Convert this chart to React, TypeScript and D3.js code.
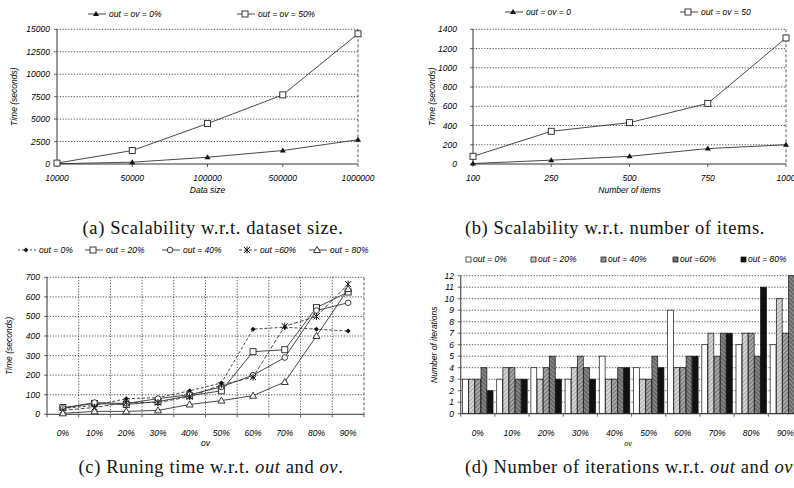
import React from "react";
import * as d3 from "d3";

// ---- Data ----
const sizeCats = ["10000", "50000", "100000", "500000", "1000000"];
const sizeOv0 = [30, 200, 750, 1500, 2700];
const sizeOv50 = [100, 1500, 4500, 7700, 14500];
const sizeTicks = [0, 2500, 5000, 7500, 10000, 12500, 15000];

const itemCats = ["100", "250", "500", "750", "1000"];
const itemOv0 = [5, 40, 80, 160, 200];
const itemOv50 = [80, 340, 430, 630, 1310];
const itemTicks = [0, 200, 400, 600, 800, 1000, 1200, 1400];

const ovCats = ["0%", "10%", "20%", "30%", "40%", "50%", "60%", "70%", "80%", "90%"];
const timeOut0 = [30, 45, 80, 85, 120, 160, 435, 445, 435, 425];
const timeOut20 = [35, 55, 50, 65, 95, 120, 320, 330, 545, 625];
const timeOut40 = [30, 60, 55, 80, 100, 140, 200, 290, 530, 570];
const timeOut60 = [20, 35, 60, 60, 90, 150, 190, 450, 500, 665];
const timeOut80 = [5, 15, 15, 20, 50, 70, 95, 165, 400, 640];
const timeTicks = [0, 100, 200, 300, 400, 500, 600, 700];

const iterOut0 = [3, 3, 4, 3, 5, 4, 9, 6, 6, 6];
const iterOut20 = [3, 4, 3, 4, 3, 3, 4, 7, 7, 10];
const iterOut40 = [3, 4, 4, 5, 3, 3, 4, 5, 7, 7];
const iterOut60 = [4, 3, 5, 4, 4, 5, 5, 7, 5, 12];
const iterOut80 = [2, 3, 3, 3, 4, 4, 5, 7, 11, 9];
const iterTicks = d3.range(0, 13);

const outLabels = ["out = 0%", "out = 20%", "out = 40%", "out =60%", "out = 80%"];

const FONT = "'Liberation Sans', Arial, sans-serif";
const SERIF = "'Liberation Serif', 'DejaVu Serif', serif";
const LINE = "#333";
const TXT = "#000";
const FS = 8.5;
const GRID = { stroke: "#222", strokeWidth: 0.8, strokeDasharray: "1.2,1.6" };

type Mk = "tri" | "sq" | "circ" | "diam" | "star" | "otri";

function Marker({ x, y, t }: { x: number; y: number; t: Mk }) {
  if (t === "tri")
    return <path d={`M${x},${y - 3}L${x + 3},${y + 2}L${x - 3},${y + 2}Z`} fill="#111" />;
  if (t === "otri")
    return <path d={`M${x},${y - 3.5}L${x + 3.5},${y + 2.5}L${x - 3.5},${y + 2.5}Z`} fill="#fff" stroke="#222" strokeWidth={0.9} />;
  if (t === "sq")
    return <rect x={x - 3} y={y - 3} width={6} height={6} fill="#fff" stroke="#222" strokeWidth={0.9} />;
  if (t === "circ") return <circle cx={x} cy={y} r={2.8} fill="#fff" stroke="#222" strokeWidth={0.9} />;
  if (t === "diam")
    return <path d={`M${x},${y - 2.5}L${x + 2.5},${y}L${x},${y + 2.5}L${x - 2.5},${y}Z`} fill="#111" />;
  return (
    <g stroke="#111" strokeWidth={1}>
      <line x1={x - 3} y1={y - 3} x2={x + 3} y2={y + 3} />
      <line x1={x - 3} y1={y + 3} x2={x + 3} y2={y - 3} />
      <line x1={x} y1={y - 3.5} x2={x} y2={y + 3.5} />
    </g>
  );
}

function LineChart(props: {
  cats: string[];
  series: { vals: number[]; mk: Mk; dash?: string }[];
  ticks: number[];
  x0: number; x1: number; y0: number; y1: number;
  band: boolean;
  yTitle: string; xTitle: string; yTitleX: number; xTitleY: number; xLabelY: number;
  labelRight: number;
}) {
  const { cats, series, ticks, x0, x1, y0, y1, band } = props;
  const maxV = ticks[ticks.length - 1];
  const y = d3.scaleLinear().domain([0, maxV]).range([y0, y1]);
  let xp: (c: string) => number;
  let boundaries: number[] = [];
  if (band) {
    const b = d3.scaleBand().domain(cats).range([x0, x1]);
    xp = (c) => (b(c) as number) + b.bandwidth() / 2;
    boundaries = cats.map((c) => b(c) as number).concat([x1]);
  } else {
    const p = d3.scalePoint().domain(cats).range([x0, x1]);
    xp = (c) => p(c) as number;
  }
  const line = d3.line<number>().x((_, i) => xp(cats[i])).y((v) => y(v));
  return (
    <g>
      {ticks.map((t) => (
        <g key={t}>
          {t > 0 && <line x1={x0} x2={x1} y1={y(t)} y2={y(t)} {...GRID} />}
          <line x1={x0 - 3} x2={x0} y1={y(t)} y2={y(t)} stroke="#444" strokeWidth={0.8} />
          <text x={props.labelRight} y={y(t) + 3} fontSize={FS} fontStyle="italic" textAnchor="end" fontFamily={FONT} fill={TXT}>{t}</text>
        </g>
      ))}
      {band && boundaries.slice(1, -1).map((bx, i) => (
        <line key={i} x1={bx} x2={bx} y1={y1} y2={y0} {...GRID} />
      ))}
      <line x1={x1} x2={x1} y1={y1} y2={y0} stroke="#333" strokeWidth={0.8} strokeDasharray="3,2" />
      <line x1={x0} x2={x0} y1={y1} y2={y0} stroke="#555" strokeWidth={1.2} />
      <line x1={x0} x2={x1} y1={y0} y2={y0} stroke="#333" strokeWidth={1} />
      {(band ? boundaries : cats.map(xp)).map((tx, i) => (
        <line key={i} x1={tx} x2={tx} y1={y0} y2={y0 + 3} stroke="#333" strokeWidth={0.8} />
      ))}
      {cats.map((c) => (
        <text key={c} x={xp(c)} y={props.xLabelY} fontSize={FS} fontStyle="italic" textAnchor="middle" fontFamily={FONT} fill={TXT}>{c}</text>
      ))}
      {series.map((s, i) => (
        <g key={i}>
          <path d={line(s.vals) as string} fill="none" stroke={LINE} strokeWidth={0.9} strokeDasharray={s.dash} />
          {s.vals.map((v, j) => <Marker key={j} x={xp(cats[j])} y={y(v)} t={s.mk} />)}
        </g>
      ))}
      <text transform={`translate(${props.yTitleX},${(y0 + y1) / 2}) rotate(-90)`} fontSize={FS} fontStyle="italic" textAnchor="middle" fontFamily={FONT} fill={TXT}>{props.yTitle}</text>
      <text x={(x0 + x1) / 2} y={props.xTitleY} fontSize={FS} fontStyle="italic" textAnchor="middle" fontFamily={FONT} fill={TXT}>{props.xTitle}</text>
    </g>
  );
}

function LegendItem({ x, y, mk, label, dash }: { x: number; y: number; mk: Mk; label: string; dash?: string }) {
  return (
    <g>
      <line x1={x} x2={x + 18} y1={y} y2={y} stroke={LINE} strokeWidth={0.9} strokeDasharray={dash} />
      <Marker x={x + 8} y={y} t={mk} />
      <text x={x + 21} y={y + 3} fontSize={FS} fontStyle="italic" fontFamily={FONT} fill={TXT}>{label}</text>
    </g>
  );
}

const fills = ["#fff", "url(#h20)", "url(#h40)", "url(#h60)", "#111"];

function BarChart() {
  const x0 = 460.7, x1 = 802.5, y0 = 413.7, y1 = 275.7;
  const y = d3.scaleLinear().domain([0, 12]).range([y0, y1]);
  const xb = d3.scaleBand().domain(ovCats).range([x0, x1]);
  const inner = d3.scaleBand<number>().domain([0, 1, 2, 3, 4]).range([0, xb.bandwidth()]).paddingOuter(0.3).paddingInner(0.05);
  const all = [iterOut0, iterOut20, iterOut40, iterOut60, iterOut80];
  return (
    <g>
      {iterTicks.map((t) => (
        <g key={t}>
          {t > 0 && <line x1={x0} x2={794} y1={y(t)} y2={y(t)} {...GRID} />}
          <line x1={x0 - 3} x2={x0} y1={y(t)} y2={y(t)} stroke="#444" strokeWidth={0.8} />
          <text x={454} y={y(t) + 3} fontSize={FS} fontStyle="italic" textAnchor="end" fontFamily={FONT} fill={TXT}>{t}</text>
        </g>
      ))}
      {all.map((vals, s) =>
        vals.map((v, i) => (
          <rect key={`${s}-${i}`} x={(xb(ovCats[i]) as number) + (inner(s) as number)} y={y(v)} width={inner.bandwidth()} height={y0 - y(v)} fill={fills[s]} stroke="#111" strokeWidth={0.7} />
        ))
      )}
      <line x1={x0} x2={x0} y1={y1} y2={y0} stroke="#555" strokeWidth={1.2} />
      <line x1={x0} x2={x1} y1={y0} y2={y0} stroke="#333" strokeWidth={1} />
      {ovCats.map((c) => (
        <g key={c}>
          <line x1={xb(c) as number} x2={xb(c) as number} y1={y0} y2={y0 + 3} stroke="#333" strokeWidth={0.8} />
          <text x={(xb(c) as number) + xb.bandwidth() / 2} y={436} fontSize={FS} fontStyle="italic" textAnchor="middle" fontFamily={FONT} fill={TXT}>{c}</text>
        </g>
      ))}
      <text x={628} y={446} fontSize={7} fontStyle="italic" textAnchor="middle" fontFamily={FONT} fill={TXT}>ov</text>
      <text transform={`translate(437,${(y0 + y1) / 2}) rotate(-90)`} fontSize={FS} fontStyle="italic" textAnchor="middle" fontFamily={FONT} fill={TXT}>Number of iterations</text>
      {outLabels.map((l, i) => {
        const lx = [466, 531, 601, 673, 741][i];
        return (
          <g key={l}>
            <rect x={lx} y={257} width={5} height={5} fill={fills[i]} stroke="#111" strokeWidth={0.7} />
            <text x={lx + 7} y={262} fontSize={FS} fontStyle="italic" fontFamily={FONT} fill={TXT}>{l}</text>
          </g>
        );
      })}
    </g>
  );
}

const CAP = { fontSize: 18.5, fontFamily: SERIF, fill: "#111", letterSpacing: 0.6 };

export default function App() {
  return (
    <svg width={794} height={488} style={{ position: "absolute", left: 0, top: 0, background: "#fff" }}>
      <defs>
        <pattern id="h20" width="3" height="3" patternUnits="userSpaceOnUse" patternTransform="rotate(45)">
          <rect width="3" height="3" fill="#d8d8d8" />
          <line x1="0" y1="0" x2="0" y2="3" stroke="#777" strokeWidth="1" />
        </pattern>
        <pattern id="h40" width="3" height="3" patternUnits="userSpaceOnUse" patternTransform="rotate(45)">
          <rect width="3" height="3" fill="#aaa" />
          <line x1="0" y1="0" x2="0" y2="3" stroke="#444" strokeWidth="1.2" />
        </pattern>
        <pattern id="h60" width="3" height="3" patternUnits="userSpaceOnUse" patternTransform="rotate(-45)">
          <rect width="3" height="3" fill="#666" />
          <line x1="0" y1="0" x2="0" y2="3" stroke="#ddd" strokeWidth="0.8" />
        </pattern>
      </defs>
      <rect width={794} height={488} fill="#fff" />

      {/* (a) */}
      <LegendItem x={88} y={14} mk="tri" label="out = ov = 0%" />
      <LegendItem x={237} y={14} mk="sq" label="out = ov = 50%" />
      <LineChart cats={sizeCats} series={[{ vals: sizeOv0, mk: "tri" }, { vals: sizeOv50, mk: "sq" }]} ticks={sizeTicks}
        x0={57} x1={358} y0={164} y1={29.3} band={false} yTitle="Time (seconds)" xTitle="Data size"
        yTitleX={17} xTitleY={193} xLabelY={181} labelRight={50} />

      {/* (b) */}
      <LegendItem x={505} y={12} mk="tri" label="out = ov = 0" />
      <LegendItem x={680} y={12} mk="sq" label="out = ov = 50" />
      <LineChart cats={itemCats} series={[{ vals: itemOv0, mk: "tri" }, { vals: itemOv50, mk: "sq" }]} ticks={itemTicks}
        x0={473} x1={786} y0={164} y1={29.3} band={false} yTitle="Time (seconds)" xTitle="Number of items"
        yTitleX={435} xTitleY={193} xLabelY={181} labelRight={457} />

      {/* (c) */}
      <LegendItem x={18} y={250} mk="diam" label="out = 0%" dash="2,2" />
      <LegendItem x={85} y={250} mk="sq" label="out = 20%" />
      <LegendItem x={162} y={250} mk="circ" label="out = 40%" />
      <LegendItem x={239} y={250} mk="star" label="out =60%" dash="3,2" />
      <LegendItem x={309} y={250} mk="otri" label="out = 80%" />
      <LineChart cats={ovCats} series={[
        { vals: timeOut0, mk: "diam", dash: "3,2" },
        { vals: timeOut20, mk: "sq" },
        { vals: timeOut40, mk: "circ" },
        { vals: timeOut60, mk: "star", dash: "4,2" },
        { vals: timeOut80, mk: "otri" },
      ]} ticks={timeTicks}
        x0={47} x1={364} y0={414.3} y1={277.3} band={true} yTitle="Time (seconds)" xTitle="ov"
        yTitleX={12} xTitleY={446} xLabelY={436} labelRight={40} />

      {/* (d) */}
      <BarChart />

      {/* captions */}
      <text x={213} y={234} {...CAP} textAnchor="middle">(a) Scalability w.r.t. dataset size.</text>
      <text x={615} y={234} {...CAP} textAnchor="middle">(b) Scalability w.r.t. number of items.</text>
      <text x={211} y={473} {...CAP} textAnchor="middle">(c) Runing time w.r.t. <tspan fontStyle="italic">out</tspan> and <tspan fontStyle="italic">ov</tspan>.</text>
      <text x={465} y={473} {...CAP}>(d) Number of iterations w.r.t. <tspan fontStyle="italic">out</tspan> and <tspan fontStyle="italic">ov</tspan></text>
    </svg>
  );
}
